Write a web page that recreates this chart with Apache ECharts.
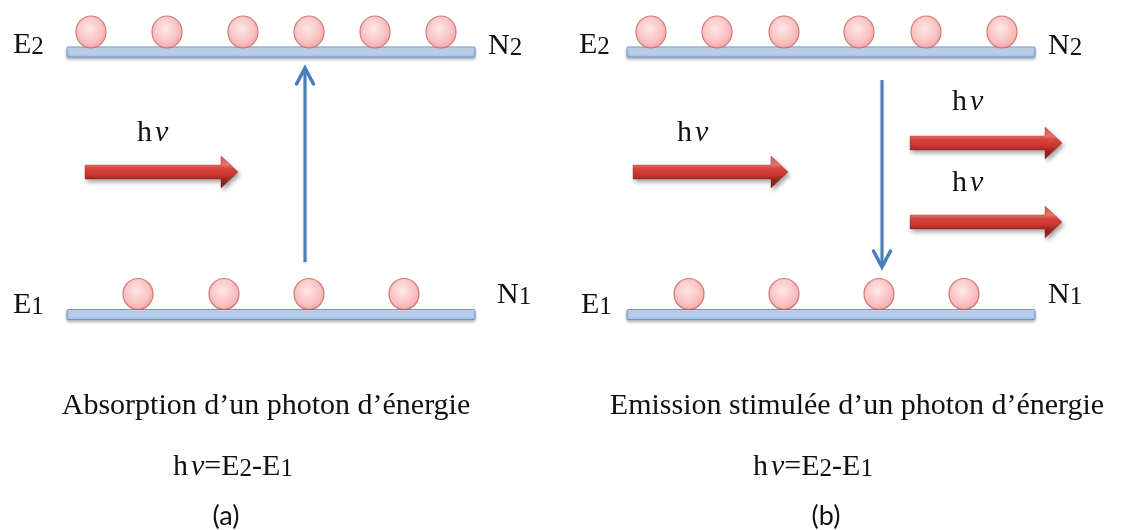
<!DOCTYPE html>
<html><head><meta charset="utf-8">
<script src="https://cdn.jsdelivr.net/npm/echarts@6/dist/echarts.min.js"></script>
<style>html,body{margin:0;padding:0;background:#fff}#c{width:1122px;height:530px}</style>
</head><body><div id="c"></div>
<script>
// ---- diagram data (page coordinates: x to the right, y downward) ----
const levelBars = [ // [xStart, xEnd, y]
  [67, 475, 52], [67, 475, 314.5], [627, 1035, 52], [627, 1035, 314.5]
];
const upperAtoms = [ // [x, y]
  [91, 32], [167, 32], [243, 32], [309, 32], [375, 32], [441, 32],
  [651, 32], [717, 32], [784, 32], [859, 32], [926, 32], [1002, 32]
];
const lowerAtoms = [
  [138, 294], [224, 294], [309, 294], [404, 294],
  [689, 294], [784, 294], [879, 294], [964, 294]
];
const transitions = [ // [x, yStart, yEnd(arrow tip)]
  [305, 262, 68], [882, 80, 267]
];
const photons = [ // [xStart, xTip, y]
  [85, 238, 172], [633, 788, 172], [910, 1062, 143], [910, 1062, 222]
];
const labelText = [
  'E2', 'N2', 'E1', 'N1', 'E2', 'N2', 'E1', 'N1',
  'hν', 'hν', 'hν', 'hν',
  'Absorption d’un photon d’énergie', 'Emission stimulée d’un photon d’énergie',
  'hν=E2-E1', 'hν=E2-E1', '(a)', '(b)'
];
const labelX = [13, 488, 13, 497, 579, 1048, 581, 1048, 137, 677, 952, 952, 266, 857, 173, 753, 226, 826];
const labelY = [45, 46, 305, 295, 45, 46, 305, 295, 133, 133, 102, 183, 406, 406, 467, 467, 516, 516];
const labelAlign = ['left','left','left','left','left','left','left','left','left','left','left','left','center','center','left','left','center','center'];

// ---- styling ----
const SERIF = '"Liberation Serif", "Times New Roman", serif';
const RICH = {
  s: { fontFamily: SERIF, fontSize: 30, color: '#111111', verticalAlign: 'bottom' },
  d: { fontFamily: SERIF, fontSize: 25, color: '#111111', verticalAlign: 'bottom' },
  nu: { fontFamily: SERIF, fontSize: 30, fontStyle: 'italic', color: '#111111', verticalAlign: 'bottom', padding: [0, 0, 0, 3] }
};
function toRich(str) {
  let out = '';
  const parts = str.split(/(\d|ν)/).filter(p => p !== '');
  parts.forEach(p => {
    if (/\d/.test(p)) out += '{d|' + p + '}';
    else if (p === 'ν') out += '{nu|' + p + '}';
    else out += '{s|' + p + '}';
  });
  return out;
}

function renderLevel(params, api) {
  const a = api.coord([api.value(0), api.value(2)]);
  const b = api.coord([api.value(1), api.value(2)]);
  const h = 10;
  return {
    type: 'rect',
    shape: { x: a[0], y: a[1] - h / 2, width: b[0] - a[0], height: h, r: 1 },
    style: {
      fill: new echarts.graphic.LinearGradient(0, 0, 0, 1, [
        { offset: 0, color: '#d3e2f5' }, { offset: 1, color: '#a6c0e7' }
      ]),
      stroke: '#7196cc', lineWidth: 1,
      shadowColor: 'rgba(0,0,0,0.28)', shadowBlur: 3, shadowOffsetY: 2
    }
  };
}

function renderTransition(params, api) {
  const a = api.coord([api.value(0), api.value(1)]);
  const b = api.coord([api.value(0), api.value(2)]);
  const dir = b[1] > a[1] ? 1 : -1;
  const hw = 8.5, hl = 16;
  const col = '#4a7ebb';
  return {
    type: 'group',
    children: [
      { type: 'line', shape: { x1: a[0], y1: a[1], x2: b[0], y2: b[1] - dir * 2 },
        style: { stroke: col, lineWidth: 3, shadowColor: 'rgba(0,0,0,0.2)', shadowBlur: 2, shadowOffsetY: 1 } },
      { type: 'polyline', shape: { points: [[b[0] - hw, b[1] - dir * hl], [b[0], b[1]], [b[0] + hw, b[1] - dir * hl]] },
        style: { stroke: col, lineWidth: 3.5, fill: null, lineJoin: 'miter', lineCap: 'round' } }
    ]
  };
}

function renderPhoton(params, api) {
  const a = api.coord([api.value(0), api.value(2)]);
  const b = api.coord([api.value(1), api.value(2)]);
  const sh = 7, hh = 16, hl = 17;
  const y = a[1], hx = b[0] - hl;
  return {
    type: 'polygon',
    shape: { points: [
      [a[0], y - sh], [hx, y - sh], [hx, y - hh], [b[0], y], [hx, y + hh], [hx, y + sh], [a[0], y + sh]
    ] },
    style: {
      fill: new echarts.graphic.LinearGradient(0, 0, 0, 1, [
        { offset: 0, color: '#d9544e' },
        { offset: 0.28, color: '#ea7770' },
        { offset: 0.38, color: '#dc4741' },
        { offset: 0.6, color: '#c9342f' },
        { offset: 0.72, color: '#a02622' },
        { offset: 1, color: '#801b18' }
      ]),
      stroke: 'rgba(140,30,28,0.6)', lineWidth: 0.6,
      shadowColor: 'rgba(0,0,0,0.35)', shadowBlur: 4, shadowOffsetX: 2, shadowOffsetY: 3
    }
  };
}

function renderLabel(params, api) {
  const i = api.value(2);
  const p = api.coord([api.value(0), api.value(1)]);
  const t = labelText[i];
  if (t.charAt(0) === '(') {
    return { type: 'text', x: p[0], y: p[1],
      style: { text: t, fontFamily: 'Lato, "Open Sans", sans-serif', fontSize: 27, fill: '#111111',
        align: labelAlign[i], verticalAlign: 'middle' } };
  }
  return { type: 'text', x: p[0], y: p[1],
    style: { text: toRich(t), rich: RICH, fontFamily: SERIF, fontSize: 30, fill: '#111111',
      align: labelAlign[i], verticalAlign: 'middle' } };
}

const atomStyle = {
  color: {
    type: 'radial', x: 0.45, y: 0.4, r: 0.65,
    colorStops: [{ offset: 0, color: '#fde2e2' }, { offset: 0.6, color: '#f8b4b3' }, { offset: 1, color: '#ef8d8b' }]
  },
  borderColor: '#c85e5a', borderWidth: 1.2
};

const chart = echarts.init(document.getElementById('c'), null, { renderer: 'canvas' });
chart.setOption({
  backgroundColor: '#ffffff',
  animation: false,
  grid: { left: 0, right: 0, top: 0, bottom: 0 },
  xAxis: { type: 'value', min: 0, max: 1122, show: false },
  yAxis: { type: 'value', min: 0, max: 530, inverse: true, show: false },
  series: [
    { type: 'custom', renderItem: renderLevel, data: levelBars, z: 2, silent: true },
    { type: 'scatter', data: upperAtoms, symbol: 'circle', symbolSize: [30, 32], itemStyle: atomStyle, z: 3, silent: true },
    { type: 'scatter', data: lowerAtoms, symbol: 'circle', symbolSize: [30, 31], itemStyle: atomStyle, z: 3, silent: true },
    { type: 'custom', renderItem: renderTransition, data: transitions, z: 4, silent: true },
    { type: 'custom', renderItem: renderPhoton, data: photons, z: 4, silent: true },
    { type: 'custom', renderItem: renderLabel, data: labelText.map((t, i) => [labelX[i], labelY[i], i]), z: 5, silent: true }
  ]
});
</script>
</body></html>
